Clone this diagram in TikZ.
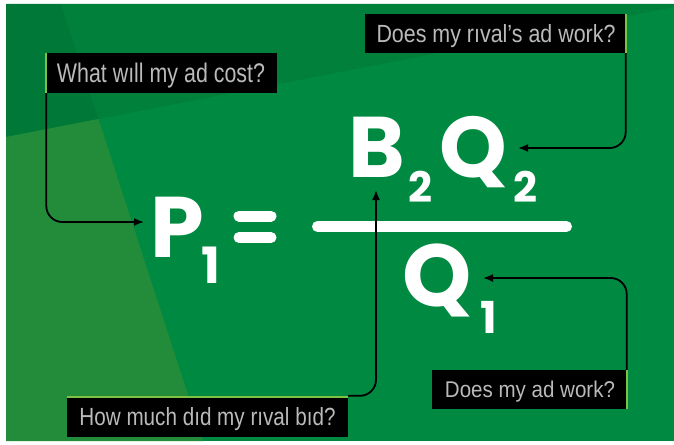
\documentclass[tikz,border=0pt]{standalone}
\usepackage{fontspec}
\usepackage{graphicx}
\usetikzlibrary{arrows.meta}
\newfontfamily\lblfont{Liberation Sans}
\newfontfamily\eqfont{Poppins}
\definecolor{gbase}{RGB}{0,137,64}
\definecolor{gtop}{RGB}{0,128,59}
\definecolor{gdark}{RGB}{0,121,56}
\definecolor{glight}{RGB}{34,140,58}
\definecolor{accent}{RGB}{125,194,66}
\definecolor{lbltext}{RGB}{186,186,186}
\tikzset{
  qbox/.style={fill=black, inner sep=0pt, text=lbltext, text height=#1, text depth=0pt},
  accentbar/.style={draw=accent, line width=2.5pt},
  conn/.style={draw=black, line width=1.8pt, rounded corners=16pt, -{Latex[length=10pt,width=8pt]}},
  bigglyph/.style={text=white, inner sep=0pt, anchor=base, font=\eqfont\bfseries\fontsize{#1}{#1}\selectfont},
  whitebar/.style={draw=white, line width=11pt, line cap=round}
}
\begin{document}
\begin{tikzpicture}[x=1pt,y=-1pt]
\useasboundingbox (0,0) rectangle (674,444);
\fill[white] (0,0) rectangle (674,444);
% background facets
\fill[gbase] (6,4) rectangle (674,441);
\fill[gtop] (98.5,119) -- (674,7) -- (674,4) -- (61,4) -- cycle;
\fill[gdark] (6,4) -- (61,4) -- (98.5,119) -- (6,137) -- cycle;
\fill[glight] (6,137) -- (98.5,119) -- (203,441) -- (6,441) -- cycle;

% question boxes
\node[qbox=19.5pt, minimum width=232pt, minimum height=40pt] (b1) at (161,73)
  {\resizebox{208pt}{19.5pt}{\lblfont What wıll my ad cost?}};
\node[qbox=18pt, minimum width=262pt, minimum height=39pt] (b2) at (496,33.5)
  {\resizebox{239pt}{18pt}{\lblfont Does my rıval’s ad work?}};
\node[qbox=18pt, minimum width=281pt, minimum height=41pt] (b3) at (207.5,416.5)
  {\resizebox{256pt}{18pt}{\lblfont How much dıd my rıval bıd?}};
\node[qbox=16.5pt, minimum width=196pt, minimum height=39pt] (b4) at (530,389.5)
  {\resizebox{170pt}{16.5pt}{\lblfont Does my ad work?}};

% accent bars
\draw[accentbar] ([xshift=1.25pt]b1.north west) -- ([xshift=1.25pt]b1.south west);
\draw[accentbar] ([xshift=-1.25pt]b2.north east) -- ([xshift=-1.25pt]b2.south east);
\draw[accentbar] ([yshift=-1.25pt]b3.north west) -- ([yshift=-1.25pt]b3.north east);
\draw[accentbar] ([xshift=-1.25pt]b4.north east) -- ([xshift=-1.25pt]b4.south east);

% equation
\node[bigglyph=86] (P) at (177,257)
  {P\rlap{\kern-2pt\raisebox{-26pt}{\fontsize{50}{50}\selectfont 1}}};
\draw[whitebar] (239,216) -- (271,216);
\draw[whitebar] (239,237.5) -- (271,237.5);
\draw[whitebar] (317.5,226.5) -- (566.5,226.5);
\node[bigglyph=86] (B) at (377,177) {B};
\node[bigglyph=42] (B2) at (420,202) {2};
\node[bigglyph=86] (Q) at (473,177) {Q};
\node[bigglyph=42] (Q2) at (525,202) {2};
\node[bigglyph=88] (Qd) at (437,306) {Q};
\node[bigglyph=44] (Q1) at (489,333) {1};

% arrow targets
\coordinate (pin1) at (144,222);
\coordinate (pin2) at (518,148);
\coordinate (pin3) at (376,190);
\coordinate (pin4) at (483,278);

% connectors
\draw[conn] ([xshift=1.5pt]b1.south west) |- (pin1);
\draw[conn] ([xshift=-1.5pt]b2.south east) |- (pin2);
\draw[conn] (b3.north east) -| (pin3);
\draw[conn] ([xshift=-1.5pt]b4.north east) |- (pin4);
\end{tikzpicture}
\end{document}
